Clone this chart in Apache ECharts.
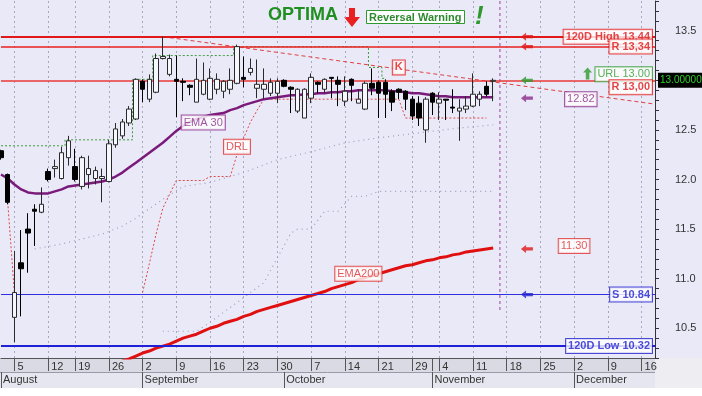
<!DOCTYPE html>
<html><head><meta charset="utf-8">
<script src="https://cdn.jsdelivr.net/npm/echarts@6/dist/echarts.min.js"></script>
<style>html,body{margin:0;padding:0;background:#fff}#c{width:702px;height:396px}</style>
</head><body><div id="c"></div>
<script>
// ---- trading days (category axis) ----
const augDays = [1,2,5,6,7,8,9,12,13,14,16,19,20,21,22,23,26,27,28,29,30];
const sepDays = [2,3,4,5,6,9,10,11,12,13,16,17,18,19,20,23,24,25,26,27,30];
const octDays = [1,2,3,4,7,8,9,10,11,14,15,16,17,18,21,22,23,24,25,29,30,31];
const novDays = [1,4,5,6,7,8,11,12,13,14,15,18,19,20,21,22,25,26,27,28,29];
const decDays = [2,3,4,5,6,9,10,11,12,13,16,17,18];

// ---- tick labels ----
const dayTickLabels = ['08-05','08-12','08-19','08-26','09-02','09-09','09-16','09-23','09-30','10-07','10-14','10-21','10-29','11-04','11-11','11-18','11-25','12-02','12-09','12-16'];
const extraDayTicks = ['11-01'];
const monthStarts = ['08-01','09-02','10-01','11-01','12-02'];
const monthNames = ['August','September','October','November','December'];

// ---- OHLC ----
const opens  = [12.29,12.05,10.61,11.16,11.50,11.70,11.67,12.08,12.11,12.01,12.22,12.13,11.93,12.05,12.01,12.01,11.98,12.35,12.44,12.57,12.61,12.99,12.81,12.88,13.22,13.06,13.01,12.99,12.95,12.78,12.86,12.81,12.91,12.89,12.91,12.97,13.03,13.08,12.92,12.91,12.87,12.87,13.00,12.93,12.69,12.62,12.82,12.98,12.91,13.03,13.00,12.79,13.01,12.77,12.71,12.97,12.98,12.98,12.89,12.91,12.89,12.81,12.77,12.50,12.87,12.77,12.81,12.73,12.69,12.71,12.74,12.81,12.94,12.99];
const closes = [12.22,11.77,10.86,11.10,11.46,11.68,11.75,12.00,12.13,12.27,12.39,12.00,12.22,12.11,12.09,12.03,12.36,12.51,12.58,12.71,13.01,12.91,13.01,13.22,13.24,13.22,12.99,12.98,12.93,13.01,13.00,13.02,13.01,12.99,13.00,13.34,13.01,13.12,12.96,12.96,12.98,12.99,12.94,12.91,12.91,12.91,13.03,12.96,13.01,13.02,12.96,12.89,12.95,12.81,12.97,12.92,12.87,12.86,12.78,12.88,12.81,12.64,12.62,12.81,12.78,12.81,12.80,12.72,12.72,12.74,12.86,12.86,12.86,13.00];
const lows   = [12.20,11.75,10.36,10.62,11.06,11.33,11.66,11.98,12.02,12.00,12.14,11.98,11.90,11.91,11.95,11.77,11.97,12.32,12.41,12.54,12.60,12.78,12.78,12.87,13.21,13.04,12.63,12.79,12.85,12.78,12.85,12.80,12.86,12.82,12.86,12.96,12.93,13.05,12.82,12.81,12.84,12.77,12.93,12.67,12.67,12.62,12.77,12.87,12.87,12.82,12.74,12.74,12.79,12.77,12.70,12.85,12.62,12.62,12.69,12.81,12.70,12.60,12.54,12.37,12.65,12.60,12.60,12.67,12.39,12.67,12.73,12.74,12.84,12.79];
const highs  = [12.30,12.06,11.28,11.49,11.66,11.75,11.92,12.11,12.20,12.33,12.44,12.31,12.24,12.24,12.13,12.11,12.40,12.57,12.61,12.74,13.02,13.01,13.06,13.27,13.44,13.26,13.25,13.02,12.96,13.22,13.18,13.12,13.07,13.00,13.12,13.36,13.24,13.22,13.21,13.12,13.02,13.02,13.01,12.94,12.92,12.92,13.07,12.99,13.02,13.03,13.04,13.04,13.02,12.91,12.99,13.12,13.00,13.01,12.91,12.92,12.90,12.84,12.84,12.83,12.88,12.88,12.81,12.91,12.81,12.84,13.07,12.89,12.99,13.02];

// ---- indicators ----
const ema30 = [12.05,12.01,11.95,11.90,11.87,11.86,11.86,11.86,11.88,11.90,11.93,11.94,11.95,11.96,11.97,11.98,12.00,12.03,12.07,12.12,12.17,12.22,12.27,12.32,12.37,12.43,12.49,12.54,12.58,12.61,12.63,12.65,12.66,12.67,12.70,12.72,12.75,12.77,12.79,12.81,12.82,12.83,12.84,12.85,12.85,12.86,12.86,12.87,12.87,12.88,12.88,12.89,12.89,12.90,12.90,12.90,12.90,12.90,12.89,12.89,12.88,12.87,12.87,12.86,12.85,12.84,12.84,12.83,12.83,12.83,12.83,12.83,12.83,12.83];
const ema200Start = 17;
const ema200 = [10.14,10.17,10.19,10.22,10.25,10.27,10.30,10.32,10.34,10.37,10.40,10.42,10.44,10.47,10.50,10.52,10.55,10.57,10.59,10.62,10.64,10.67,10.69,10.71,10.73,10.75,10.77,10.79,10.81,10.83,10.85,10.87,10.90,10.92,10.94,10.96,10.99,11.01,11.03,11.05,11.07,11.09,11.11,11.13,11.14,11.16,11.18,11.19,11.21,11.22,11.24,11.25,11.27,11.28,11.29,11.30,11.31];
const drl = [null,11.77,10.84,null,null,null,null,null,null,null,null,null,null,null,null,null,null,null,null,null,null,10.86,11.15,11.45,11.71,11.85,11.99,11.99,11.99,11.99,11.99,12.03,12.03,12.03,12.03,12.25,12.42,12.58,12.70,12.81,12.81,12.81,12.81,12.81,12.81,12.81,12.81,12.81,12.81,12.81,12.81,12.81,12.81,12.81,12.81,12.81,12.81,12.81,12.81,12.81,12.62,12.62,12.62,12.62,12.62,12.62,12.62,12.62,12.62,12.62,12.62,12.62,12.62];
const greenStop = [12.34,12.34,12.34,12.34,12.34,12.34,12.34,12.34,12.34,12.34,12.40,12.40,12.40,12.40,12.40,12.40,12.40,12.40,12.40,12.40,13.01,13.01,13.01,13.25,13.25,13.25,13.25,13.25,13.25,13.25,13.25,13.25,13.25,13.25,13.25,13.34,13.34,13.34,13.34,13.34,13.34,13.34,13.34,13.34,13.34,13.34,13.34,13.34,13.34,13.34,13.34,13.34,13.34,13.34,13.34,13.13,13.13,13.02];
const trendLine = [[24,13.44],[97,12.76]];
const upperDots = [[5,11.30],[9,11.35],[15,11.45],[18,11.53],[20,11.61],[24,11.80],[27,11.93],[31,11.97],[36,12.07],[41,12.20],[46,12.28],[51,12.37],[56,12.42],[62,12.47],[68,12.52],[73,12.55]];
const lowerDots = [[24,10.47],[29,10.47],[31,10.56],[39,10.96],[43,11.46],[44,11.50],[46,11.50],[48,11.68],[50,11.68],[52,11.83],[54,11.83],[56,11.88],[73,11.88]];
const todayMarker = [[74,13.8],[74,10.66]];

// ---- horizontal levels ----
const levelValues = [13.44, 13.34, 13.00, 10.84, 10.32];
const levelColors = ['#E01818','#E82020','#E83838','#3030E0','#2020D8'];
const levelWidths = [2, 1.5, 1.5, 1, 2];
const lastPrice = 13.00;

// ---- label boxes ----
const rightLabels = [
  {text:'120D High 13,44', value:13.44, color:'#E01818', bold:true, dy:0},
  {text:'R 13,34', value:13.34, color:'#E01818', bold:true, dy:0},
  {text:'URL 13.00', value:13.00, color:'#2E9A2E', bold:false, dy:-6},
  {text:'R 13,00', value:13.00, color:'#E01818', bold:true, dy:7},
  {text:'S 10.84', value:10.84, color:'#2020D0', bold:true, dy:0},
  {text:'120D Low 10.32', value:10.32, color:'#2020D0', bold:true, dy:0}
];
const centerLabels = [
  {text:'12.82', idx:86, value:12.81, color:'#8A2A8A', bold:false},
  {text:'11.30', idx:85, value:11.33, color:'#E03030', bold:false},
  {text:'K', idx:59, value:13.13, color:'#E01818', bold:true},
  {text:'EMA 30', idx:30, value:12.575, color:'#8A2A8A', bold:false},
  {text:'DRL', idx:35, value:12.33, color:'#E03030', bold:false},
  {text:'EMA200', idx:53, value:11.05, color:'#E03030', bold:false}
];
const arrowIdx = 78;
const leftArrows = [
  {value:13.44, color:'#E01818'},
  {value:13.34, color:'#E01818'},
  {value:13.00, color:'#2E9A2E'},
  {value:12.82, color:'#8A2A8A'},
  {value:11.30, color:'#E01818'},
  {value:10.84, color:'#2020D0'}
];
const upArrow = {idx:87, value:13.07, color:'#2E9A2E'};

// ---- build ----
const FONT = 'Liberation Sans, Arial, sans-serif';
const pad = n => (n < 10 ? '0' : '') + n;
const dates = [];
[[8,augDays],[9,sepDays],[10,octDays],[11,novDays],[12,decDays]].forEach(([m, ds]) => ds.forEach(d => dates.push(pad(m) + '-' + pad(d))));
const dayLabelSet = new Set(dayTickLabels);
const dayTickSet = new Set(dayTickLabels.concat(extraDayTicks));
const monthSet = new Set(monthStarts);

const ohlc = opens.map((o, i) => [o, closes[i], lows[i], highs[i]]);
const ema200Full = dates.map((d, i) => (i >= ema200Start && i - ema200Start < ema200.length) ? ema200[i - ema200Start] : null);

const LEFT_ARROW = 'path://M0,5 L6,0 L6,3 L14,3 L14,7 L6,7 L6,10 Z';
const UP_ARROW = 'path://M5,0 L10,6 L7,6 L7,14 L3,14 L3,6 L0,6 Z';

const boxLabel = (l, position) => ({
  show: true, position: position, distance: position === 'left' ? 3 : 0,
  formatter: l.text, color: l.color, fontFamily: FONT, fontSize: 11,
  fontWeight: l.bold ? 'bold' : 'normal', backgroundColor: '#FFFFFF',
  borderColor: l.color, borderWidth: 1, padding: [2, 2, 1, 2],
  offset: [0, l.dy || 0]
});

const option = {
  animation: false,
  backgroundColor: '#E9E9F7',
  textStyle: {fontFamily: FONT},
  title: [
    {text: 'OPTIMA', left: 268, top: 6, padding: 0, textStyle: {fontSize: 18, fontWeight: 'bold', color: '#1F8F1F', fontFamily: FONT}},
    {text: 'Reversal Warning', left: 366, top: 10, padding: [2, 3, 1, 3], backgroundColor: '#FFFFFF', borderColor: '#2E9A2E', borderWidth: 1, textStyle: {fontSize: 11, fontWeight: 'bold', color: '#2E8A2E', fontFamily: FONT}},
    {text: '!', left: 475, top: 4, padding: 0, textStyle: {fontSize: 26, fontWeight: 'bold', fontStyle: 'italic', color: '#2E9A2E', fontFamily: FONT}}
  ],
  graphic: [
    {type: 'rect', z: -10, silent: true, shape: {x: 0, y: 358, width: 655, height: 14}, style: {fill: '#DADAE4'}},
    {type: 'rect', z: -10, silent: true, shape: {x: 0, y: 372, width: 655, height: 16}, style: {fill: '#E6E6F0'}},
    {type: 'rect', z: -10, silent: true, shape: {x: 655, y: 358, width: 47, height: 30}, style: {fill: '#EEEEF2'}},
    {type: 'rect', z: -10, silent: true, shape: {x: 0, y: 388, width: 702, height: 8}, style: {fill: '#FFFFFF'}},
    {type: 'line', z: -5, silent: true, shape: {x1: 0, y1: 372.5, x2: 655, y2: 372.5}, style: {stroke: '#9A9AA6', lineWidth: 1}},
    {type: 'polygon', silent: true, shape: {points: [[349,8],[355,8],[355,17],[360,17],[352,27],[344,17],[349,17]]}, style: {fill: '#E82020'}}
  ],
  grid: {left: 0, right: 47, top: 1, bottom: 38, containLabel: false},
  xAxis: [
    {
      type: 'category', data: dates, boundaryGap: false, position: 'bottom',
      axisLine: {show: true, lineStyle: {color: '#555', width: 1}},
      axisTick: {show: true, length: 13, interval: (i, v) => dayTickSet.has(v), lineStyle: {color: '#555'}},
      axisLabel: {show: true, interval: (i, v) => dayLabelSet.has(v), formatter: v => String(parseInt(v.slice(3), 10)),
        align: 'left', padding: [0, 0, 0, 3], margin: 3, fontSize: 11, color: '#333', fontFamily: FONT},
      splitLine: {show: true, interval: (i, v) => dayLabelSet.has(v), lineStyle: {color: '#A8A8BC', type: [2, 3], width: 1}}
    },
    {
      type: 'category', data: dates, boundaryGap: false, position: 'bottom', offset: 14, gridIndex: 0,
      axisLine: {show: false},
      axisTick: {show: true, length: 16, interval: (i, v) => monthSet.has(v), lineStyle: {color: '#555'}},
      axisLabel: {show: true, interval: (i, v) => monthSet.has(v), formatter: v => monthNames[monthStarts.indexOf(v)],
        align: 'left', padding: [0, 0, 0, 2], margin: 2, fontSize: 11, color: '#333', fontFamily: FONT},
      splitLine: {show: false}
    }
  ],
  yAxis: {
    type: 'value', position: 'right', min: 10.2, max: 13.8, interval: 0.1,
    splitLine: {show: false},
    axisLine: {show: true, lineStyle: {color: '#333'}},
    axisTick: {show: true, length: 4, lineStyle: {color: '#333'}},
    axisLabel: {margin: 20, fontSize: 11, color: '#333', fontFamily: FONT,
      formatter: v => (Math.abs(v * 2 - Math.round(v * 2)) < 1e-6 ? v.toFixed(1) : '')}
  },
  series: [
    {
      name: 'lowerDots', type: 'line', data: lowerDots, showSymbol: false, silent: true, z: 2,
      lineStyle: {color: '#9E9EC0', width: 1.2, type: [1, 4]}
    },
    {
      name: 'upperDots', type: 'line', data: upperDots, showSymbol: false, silent: true, z: 2,
      lineStyle: {color: '#9E9EC0', width: 1.2, type: [1, 4]}
    },
    {
      name: 'levels', type: 'line', data: [], z: 2, silent: true,
      markLine: {
        silent: true, symbol: ['none', 'none'], animation: false,
        data: levelValues.map((v, i) => ({
          yAxis: v,
          lineStyle: {color: levelColors[i], width: levelWidths[i], type: 'solid'},
          label: v === lastPrice ? {show: true, position: 'end', distance: 3, formatter: lastPrice.toFixed(5),
            backgroundColor: '#000', color: '#2ED02E', fontSize: 10, fontFamily: FONT, padding: [3, 2, 2, 2]} : {show: false}
        }))
      }
    },
    {
      name: 'trend', type: 'line', data: trendLine, showSymbol: false, silent: true, z: 3,
      lineStyle: {color: '#E04040', width: 1, type: [4, 3]}
    },
    {
      name: 'today', type: 'line', data: todayMarker, showSymbol: false, silent: true, z: 3,
      lineStyle: {color: '#A040A0', width: 1, type: [3, 3]}
    },
    {
      name: 'green', type: 'line', data: greenStop, step: 'middle', showSymbol: false, silent: true, z: 3,
      lineStyle: {color: '#3A9A3A', width: 1, type: [2, 2]}
    },
    {
      name: 'DRL', type: 'line', data: drl, showSymbol: false, silent: true, z: 3,
      lineStyle: {color: '#E04848', width: 1, type: [2, 2]}
    },
    {
      name: 'EMA200', type: 'line', data: ema200Full, showSymbol: false, silent: true, z: 4,
      lineStyle: {color: '#E01010', width: 3}
    },
    {
      name: 'EMA30', type: 'line', data: ema30, showSymbol: false, silent: true, z: 4, smooth: false,
      lineStyle: {color: '#7A1A7A', width: 2.5}
    },
    {
      name: 'price', type: 'candlestick', data: ohlc, barWidth: 5, z: 5, silent: true,
      itemStyle: {color: '#F6F6FF', color0: '#000000', borderColor: '#2A2A2A', borderColor0: '#000000', borderWidth: 1}
    },
    {
      name: 'arrows', type: 'scatter', silent: true, z: 8,
      data: leftArrows.map(a => ({value: [arrowIdx, a.value], symbol: LEFT_ARROW, symbolSize: [12, 8], itemStyle: {color: a.color}}))
        .concat([{value: [upArrow.idx, upArrow.value], symbol: UP_ARROW, symbolSize: [9, 12], itemStyle: {color: upArrow.color}}])
    },
    {
      name: 'labels', type: 'scatter', silent: true, z: 9, symbolSize: 0,
      data: rightLabels.map(l => ({value: [dates.length - 1, l.value], label: boxLabel(l, 'left')}))
        .concat(centerLabels.map(l => ({value: [l.idx, l.value], label: boxLabel(l, 'inside')})))
    }
  ]
};
const chart = echarts.init(document.getElementById('c'), null, {renderer: 'canvas'});
chart.setOption(option);
</script></body></html>
